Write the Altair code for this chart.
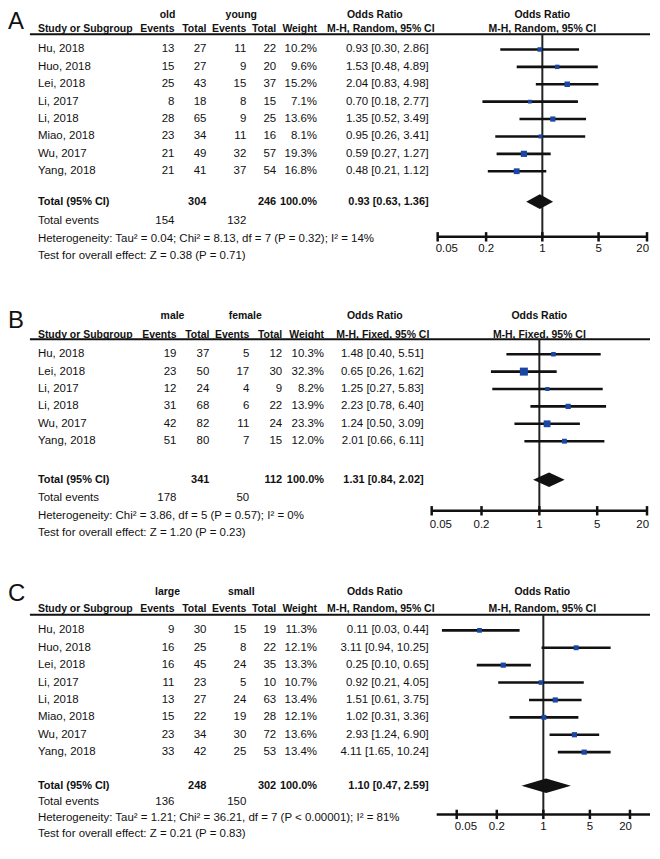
import altair as alt
import pandas as pd

# ---------------- data ----------------
A_studies = ["Hu, 2018", "Huo, 2018", "Lei, 2018", "Li, 2017", "Li, 2018", "Miao, 2018", "Wu, 2017", "Yang, 2018"]
A_ev1 = [13, 15, 25, 8, 28, 23, 21, 21]
A_tot1 = [27, 27, 43, 18, 65, 34, 49, 41]
A_ev2 = [11, 9, 15, 8, 9, 11, 32, 37]
A_tot2 = [22, 20, 37, 15, 25, 16, 57, 54]
A_weight = [10.2, 9.6, 15.2, 7.1, 13.6, 8.1, 19.3, 16.8]
A_or = [0.93, 1.53, 2.04, 0.70, 1.35, 0.95, 0.59, 0.48]
A_lo = [0.30, 0.48, 0.83, 0.18, 0.52, 0.26, 0.27, 0.21]
A_hi = [2.86, 4.89, 4.98, 2.77, 3.49, 3.41, 1.27, 1.12]
A_totals = [304, 246]
A_events = [154, 132]
A_pooled = [0.93, 0.63, 1.36]
A_groups = ["old", "young"]
A_method = "M-H, Random, 95% CI"
A_het = "Heterogeneity: Tau\u00b2 = 0.04; Chi\u00b2 = 8.13, df = 7 (P = 0.32); I\u00b2 = 14%"
A_test = "Test for overall effect: Z = 0.38 (P = 0.71)"

B_studies = ["Hu, 2018", "Lei, 2018", "Li, 2017", "Li, 2018", "Wu, 2017", "Yang, 2018"]
B_ev1 = [19, 23, 12, 31, 42, 51]
B_tot1 = [37, 50, 24, 68, 82, 80]
B_ev2 = [5, 17, 4, 6, 11, 7]
B_tot2 = [12, 30, 9, 22, 24, 15]
B_weight = [10.3, 32.3, 8.2, 13.9, 23.3, 12.0]
B_or = [1.48, 0.65, 1.25, 2.23, 1.24, 2.01]
B_lo = [0.40, 0.26, 0.27, 0.78, 0.50, 0.66]
B_hi = [5.51, 1.62, 5.83, 6.40, 3.09, 6.11]
B_totals = [341, 112]
B_events = [178, 50]
B_pooled = [1.31, 0.84, 2.02]
B_groups = ["male", "female"]
B_method = "M-H, Fixed, 95% CI"
B_het = "Heterogeneity: Chi\u00b2 = 3.86, df = 5 (P = 0.57); I\u00b2 = 0%"
B_test = "Test for overall effect: Z = 1.20 (P = 0.23)"

C_studies = ["Hu, 2018", "Huo, 2018", "Lei, 2018", "Li, 2017", "Li, 2018", "Miao, 2018", "Wu, 2017", "Yang, 2018"]
C_ev1 = [9, 16, 16, 11, 13, 15, 23, 33]
C_tot1 = [30, 25, 45, 23, 27, 22, 34, 42]
C_ev2 = [15, 8, 24, 5, 24, 19, 30, 25]
C_tot2 = [19, 22, 35, 10, 63, 28, 72, 53]
C_weight = [11.3, 12.1, 13.3, 10.7, 13.4, 12.1, 13.6, 13.4]
C_or = [0.11, 3.11, 0.25, 0.92, 1.51, 1.02, 2.93, 4.11]
C_lo = [0.03, 0.94, 0.10, 0.21, 0.61, 0.31, 1.24, 1.65]
C_hi = [0.44, 10.25, 0.65, 4.05, 3.75, 3.36, 6.90, 10.24]
C_totals = [248, 302]
C_events = [136, 150]
C_pooled = [1.10, 0.47, 2.59]
C_groups = ["large", "small"]
C_method = "M-H, Random, 95% CI"
C_het = "Heterogeneity: Tau\u00b2 = 1.21; Chi\u00b2 = 36.21, df = 7 (P < 0.00001); I\u00b2 = 81%"
C_test = "Test for overall effect: Z = 0.21 (P = 0.83)"

AXIS_TICKS = [0.05, 0.2, 1, 5, 20]
AXIS_LABELS = ["0.05", "0.2", "1", "5", "20"]

# ---------------- style / layout ----------------
FONT = "Liberation Sans, Arial, sans-serif"
FS = 11.5
BFS = 11
HFS = 10.5
INK = "#111111"
BLUE = "#1a46a6"
ROW = 17.45
W = 644

COLS_AC = dict(study=30, g1=160, g2=234, ev1=167, tot1=199, ev2=239, tot2=269, w=310,
               ort=422, orh=368, mh=374, fh=536)
COLS_B = dict(study=30, g1=165, g2=238, ev1=169, tot1=202, ev2=242, tot2=275, w=317,
              ort=417, orh=368, mh=376, fh=533)

LAY_A = dict(H=277, top=40.3, letter=-2.25, group=-1.97, header=-1.15, ul=-0.87, total=8.75,
             events=9.85, axis=10.77, het=10.89, test=11.86, ticklab=11.45,
             xdom=[0.05, 20], xrng=[431, 641], cols=COLS_AC)
LAY_B = dict(H=276, top=69, letter=-2.62, group=-2.17, header=-1.1, ul=-0.86, total=7.22,
             events=8.25, axis=9.0, het=9.28, test=10.3, ticklab=9.8,
             xdom=[0.05, 20], xrng=[425, 641], cols=COLS_B)
LAY_C = dict(H=280, top=70, letter=-2.8, group=-2.2, header=-1.2, ul=-0.9, total=8.93,
             events=9.88, axis=10.58, het=10.78, test=11.68, ticklab=11.3,
             xdom=[0.025, 40], xrng=[430, 644], cols=COLS_AC)


def make_panel(letter, studies, ev1, tot1, ev2, tot2, weight, orv, lo, hi,
               totals, events, pooled, groups, method, het, test, lay):
    n = len(studies)
    c = lay["cols"]
    ys = alt.Scale(domain=[-lay["top"] / ROW, (lay["H"] - lay["top"]) / ROW],
                   reverse=True, nice=False, zero=False)
    xs = alt.Scale(type="log", domain=lay["xdom"], range=lay["xrng"], nice=False)

    def Y(f="r"):
        return alt.Y(f"{f}:Q", scale=ys, axis=None)

    def X(f):
        return alt.X(f"{f}:Q", scale=xs, axis=None)

    df = pd.DataFrame({
        "study": studies,
        "ev1": [str(v) for v in ev1], "tot1": [str(v) for v in tot1],
        "ev2": [str(v) for v in ev2], "tot2": [str(v) for v in tot2],
        "w": weight, "wt": [f"{v:.1f}%" for v in weight],
        "or": orv, "lo": lo, "hi": hi,
        "ort": [f"{o:.2f} [{a:.2f}, {b:.2f}]" for o, a, b in zip(orv, lo, hi)],
        "r": list(range(n)),
    })

    def col(field, x, align="right"):
        return alt.Chart(df).mark_text(align=align, baseline="middle", font=FONT, fontSize=FS,
                                       color=INK).encode(x=alt.value(x), y=Y(), text=f"{field}:N")

    def lab(text, r, x, align="left", bold=False, size=FS, baseline="middle"):
        d = pd.DataFrame({"t": [text], "r": [r]})
        return alt.Chart(d).mark_text(align=align, baseline=baseline, font=FONT, fontSize=size,
                                      fontWeight="bold" if bold else "normal",
                                      color=INK).encode(x=alt.value(x), y=Y(), text="t:N")

    layers = []
    # letter and headers
    layers.append(lab(letter, lay["letter"], 0, "left", False, 24, "top"))
    layers.append(lab(groups[0], lay["group"], c["g1"], "center", True, HFS))
    layers.append(lab(groups[1], lay["group"], c["g2"], "center", True, HFS))
    layers.append(lab("Odds Ratio", lay["group"], c["orh"], "center", True, HFS))
    layers.append(lab("Odds Ratio", lay["group"], c["fh"], "center", True, HFS))
    hr = lay["header"]
    layers.append(lab("Study or Subgroup", hr, c["study"], "left", True, HFS))
    layers.append(lab("Events", hr, c["ev1"], "right", True, HFS))
    layers.append(lab("Total", hr, c["tot1"], "right", True, HFS))
    layers.append(lab("Events", hr, c["ev2"], "right", True, HFS))
    layers.append(lab("Total", hr, c["tot2"], "right", True, HFS))
    layers.append(lab("Weight", hr, c["w"], "right", True, HFS))
    layers.append(lab(method, hr, c["mh"], "center", True, HFS))
    layers.append(lab(method, hr, c["fh"], "center", True, HFS))
    ul = pd.DataFrame({"r": [lay["ul"]]})
    layers.append(alt.Chart(ul).mark_rule(color=INK, strokeWidth=2).encode(
        x=alt.value(22), x2=alt.value(W), y=Y()))

    # study rows
    layers.append(col("study", c["study"], "left"))
    for f in ["ev1", "tot1", "ev2", "tot2"]:
        layers.append(col(f, c[f]))
    layers.append(col("wt", c["w"]))
    layers.append(col("ort", c["ort"]))

    # totals
    tr = lay["total"]
    layers.append(lab("Total (95% CI)", tr, c["study"], "left", True, BFS))
    layers.append(lab(str(totals[0]), tr, c["tot1"], "right", True, BFS))
    layers.append(lab(str(totals[1]), tr, c["tot2"], "right", True, BFS))
    layers.append(lab("100.0%", tr, c["w"], "right", True, BFS))
    layers.append(lab(f"{pooled[0]:.2f} [{pooled[1]:.2f}, {pooled[2]:.2f}]", tr, c["ort"], "right", True, BFS))
    er = lay["events"]
    layers.append(lab("Total events", er, c["study"], "left"))
    layers.append(lab(str(events[0]), er, c["ev1"], "right"))
    layers.append(lab(str(events[1]), er, c["ev2"], "right"))
    layers.append(lab(het, lay["het"], c["study"], "left"))
    layers.append(lab(test, lay["test"], c["study"], "left"))

    # forest plot
    vline = pd.DataFrame({"v": [1], "a": [lay["ul"]], "b": [lay["axis"]]})
    layers.append(alt.Chart(vline).mark_rule(color="#222222", strokeWidth=2).encode(
        x=X("v"), y=Y("a"), y2="b:Q"))
    layers.append(alt.Chart(df).mark_rule(color=INK, strokeWidth=2.6).encode(
        x=X("lo"), x2="hi:Q", y=Y()))
    layers.append(alt.Chart(df).mark_square(color=BLUE, opacity=1, filled=True).encode(
        x=X("or"), y=Y(),
        size=alt.Size("w:Q", scale=alt.Scale(domain=[0, 100], range=[0, 200]), legend=None)))
    hh = 0.42
    dia = pd.DataFrame({"x": [pooled[1], pooled[0], pooled[2]],
                        "y1": [tr, tr - hh, tr], "y2": [tr, tr + hh, tr]})
    layers.append(alt.Chart(dia).mark_area(color=INK, opacity=1).encode(
        x=X("x"), y=Y("y1"), y2="y2:Q"))

    # axis
    ar = lay["axis"]
    axl = pd.DataFrame({"a": [lay["xdom"][0]], "b": [lay["xdom"][1]], "r": [ar]})
    layers.append(alt.Chart(axl).mark_rule(color=INK, strokeWidth=2.5).encode(
        x=X("a"), x2="b:Q", y=Y()))
    tk = pd.DataFrame({"t": AXIS_TICKS, "a": [ar - 0.27] * 5, "b": [ar + 0.27] * 5})
    layers.append(alt.Chart(tk).mark_rule(color=INK, strokeWidth=2.5).encode(
        x=X("t"), y=Y("a"), y2="b:Q"))
    tl = pd.DataFrame({"t": AXIS_TICKS, "lab": AXIS_LABELS, "r": [lay["ticklab"]] * 5})
    for sub, align, dx in [(tl.iloc[:1], "left", -2), (tl.iloc[1:4], "center", 0), (tl.iloc[4:], "right", 2)]:
        layers.append(alt.Chart(sub).mark_text(align=align, dx=dx, baseline="middle", font=FONT,
                                               fontSize=FS, color=INK).encode(
            x=X("t"), y=Y(), text="lab:N"))

    return alt.layer(*layers).properties(width=W, height=lay["H"])


pA = make_panel("A", A_studies, A_ev1, A_tot1, A_ev2, A_tot2, A_weight, A_or, A_lo, A_hi,
                A_totals, A_events, A_pooled, A_groups, A_method, A_het, A_test, LAY_A)
pB = make_panel("B", B_studies, B_ev1, B_tot1, B_ev2, B_tot2, B_weight, B_or, B_lo, B_hi,
                B_totals, B_events, B_pooled, B_groups, B_method, B_het, B_test, LAY_B)
pC = make_panel("C", C_studies, C_ev1, C_tot1, C_ev2, C_tot2, C_weight, C_or, C_lo, C_hi,
                C_totals, C_events, C_pooled, C_groups, C_method, C_het, C_test, LAY_C)

chart = (
    alt.vconcat(pA, pB, pC, spacing=0)
    .resolve_scale(x="independent", y="independent", size="independent")
    .properties(padding=0, background="white")
    .configure_view(stroke=None)
)

chart.save("out.html", embed_options={"renderer": "svg", "actions": False})
